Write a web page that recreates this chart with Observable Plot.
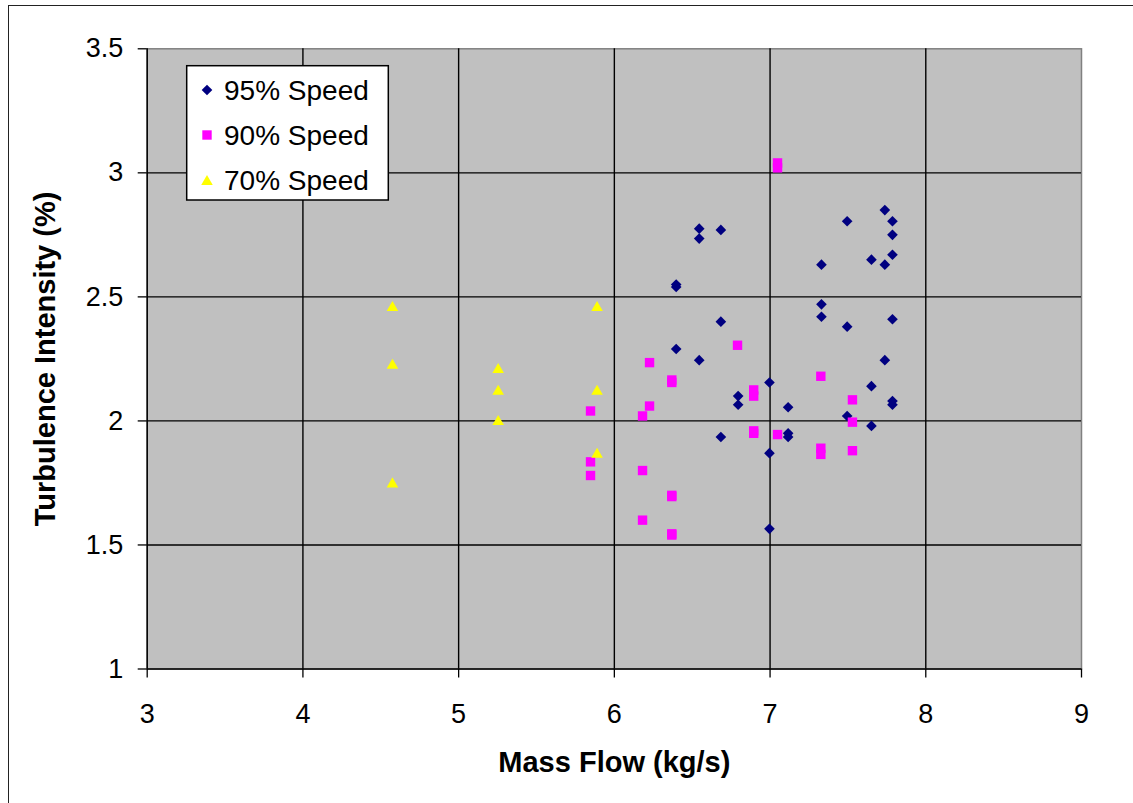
<!DOCTYPE html>
<html><head><meta charset="utf-8">
<script src="https://cdn.jsdelivr.net/npm/d3@7"></script>
<script src="https://cdn.jsdelivr.net/npm/@observablehq/plot@0.6"></script>
<style>
body{margin:0;background:#fff;}
#wrap{position:relative;width:1133px;height:803px;overflow:hidden;font-family:"Liberation Sans",Arial,sans-serif;}
#chart{position:absolute;left:0;top:0;}
#border{position:absolute;left:8px;top:5px;width:2000px;height:2000px;border-left:1.5px solid #222;border-top:1.5px solid #222;pointer-events:none;}
#legend{position:absolute;left:0;top:0;}
</style></head><body>
<div id="wrap"><div id="border"></div><div id="chart"></div><div id="legend"></div></div>
<script>
// ---- data ----
const xTicks = [3, 4, 5, 6, 7, 8, 9];
const yTicks = [1, 1.5, 2, 2.5, 3, 3.5];
const xTitle = "Mass Flow (kg/s)";
const yTitle = "Turbulence Intensity (%)";
const seriesNames = ["95% Speed", "90% Speed", "70% Speed"];
const seriesColors = ["#000080", "#FF00FF", "#FFFF00"];
const plotBg = "#C0C0C0";

const speed95X = [6.397,6.397,6.397, 6.545,6.545,6.545, 6.684,6.684,6.684, 6.795,6.795,
  6.996,6.996,6.996, 7.116,7.116,7.116, 7.330,7.330,7.330, 7.495,7.495,7.495,
  7.651,7.651,7.651, 7.737,7.737,7.737, 7.786,7.786,7.786,7.786,7.786,7.786];
const speed95Y = [2.55,2.54,2.29, 2.775,2.735,2.245, 2.77,2.40,1.935, 2.10,2.065,
  2.155,1.87,1.565, 2.055,1.95,1.935, 2.63,2.47,2.42, 2.805,2.38,2.02,
  2.65,2.14,1.98, 2.85,2.63,2.245, 2.805,2.75,2.67,2.41,2.08,2.065];

const speed90X = [5.847,5.847,5.847, 6.181,6.181,6.181, 6.226,6.226,
  6.369,6.369,6.369,6.369,6.369,6.369, 6.791, 6.895,6.895,6.895,6.895,
  7.048,7.048,7.048, 7.326,7.326,7.326, 7.529,7.529,7.529];
const speed90Y = [2.04,1.835,1.78, 2.02,1.80,1.60, 2.235,2.06,
  2.165,2.155,1.70,1.695,1.545,1.54, 2.305, 2.125,2.10,1.96,1.95,
  3.04,3.02,1.945, 2.18,1.89,1.865, 2.085,1.995,1.88];

const speed70X = [4.575,4.575,4.575, 5.254,5.254,5.254, 5.889,5.889,5.889];
const speed70Y = [2.463,2.23,1.752, 2.213,2.125,2.003, 2.463,2.125,1.871];

// ---- tables ----
const zip = (xs, ys) => xs.map((x, i) => ({x, y: ys[i]}));
const t95 = zip(speed95X, speed95Y);
const t90 = zip(speed90X, speed90Y);
const t70 = zip(speed70X, speed70Y);

const symbols = ["diamond2", "square", "triangle"];
const radii = [4.8, 5.3, 4.3];

const font = '"Liberation Sans", Arial, sans-serif';
const fmt = d => String(d);

const chart = Plot.plot({
  width: 1133, height: 803,
  marginLeft: 146.7, marginRight: 52, marginTop: 48.3, marginBottom: 134.5,
  style: {fontFamily: font, background: "transparent", color: "#000", overflow: "visible"},
  x: {domain: [3, 9], label: null},
  y: {domain: [1, 3.5], label: null},
  marks: [
    Plot.frame({fill: plotBg, stroke: "#808080", strokeWidth: 1.5}),
    Plot.gridX(xTicks.slice(1, -1), {stroke: "#000", strokeOpacity: 1, strokeWidth: 1.4}),
    Plot.gridY(yTicks.slice(1, -1), {stroke: "#000", strokeOpacity: 1, strokeWidth: 1.4}),
    Plot.ruleX([xTicks[0]], {stroke: "#000", strokeWidth: 1.5}),
    Plot.ruleY([yTicks[0]], {stroke: "#000", strokeWidth: 1.5}),
    Plot.axisX(xTicks, {tickSize: 9, tickPadding: 26, fontSize: 27, label: null, strokeWidth: 1.3, tickFormat: fmt}),
    Plot.axisY(yTicks, {tickSize: 9, tickPadding: 15, fontSize: 27, label: null, strokeWidth: 1.3, tickFormat: fmt}),
    Plot.dot(t95, {x: "x", y: "y", symbol: symbols[0], r: radii[0], fill: seriesColors[0], stroke: null}),
    Plot.dot(t90, {x: "x", y: "y", symbol: symbols[1], r: radii[1], fill: seriesColors[1], stroke: null}),
    Plot.dot(t70, {x: "x", y: "y", symbol: symbols[2], r: radii[2], fill: seriesColors[2], stroke: null, dy: 1.6}),
    Plot.text([xTitle], {text: d => d, frameAnchor: "bottom", dy: 94, fontSize: 29, fontWeight: "bold", lineAnchor: "middle", textAnchor: "middle", fill: "#000"}),
    Plot.text([yTitle], {text: d => d, frameAnchor: "left", dx: -101, rotate: -90, fontSize: 29, fontWeight: "bold", lineAnchor: "middle", textAnchor: "middle", fill: "#000"})
  ]
});
document.getElementById("chart").appendChild(chart);

// ---- legend (inside plot area, top-left) ----
const lg = d3.select("#legend").append("svg")
  .attr("width", 1133).attr("height", 803)
  .style("font-family", font);
lg.append("rect").attr("x", 186.7).attr("y", 65.7).attr("width", 201.6).attr("height", 134.3)
  .attr("fill", "#fff").attr("stroke", "#000").attr("stroke-width", 1.5);
const symMap = {diamond2: d3.symbolDiamond2, square: d3.symbolSquare, triangle: d3.symbolTriangle};
seriesNames.forEach((name, i) => {
  const cy = 90 + i * 45;
  lg.append("path")
    .attr("d", d3.symbol(symMap[symbols[i]], Math.PI * radii[i] * radii[i])())
    .attr("transform", `translate(207,${cy + (i === 2 ? 1.6 : 0)})`)
    .attr("fill", seriesColors[i]);
  lg.append("text").attr("x", 224).attr("y", cy + 10).attr("font-size", 28).attr("fill", "#000").text(name);
});
</script>
</body></html>
